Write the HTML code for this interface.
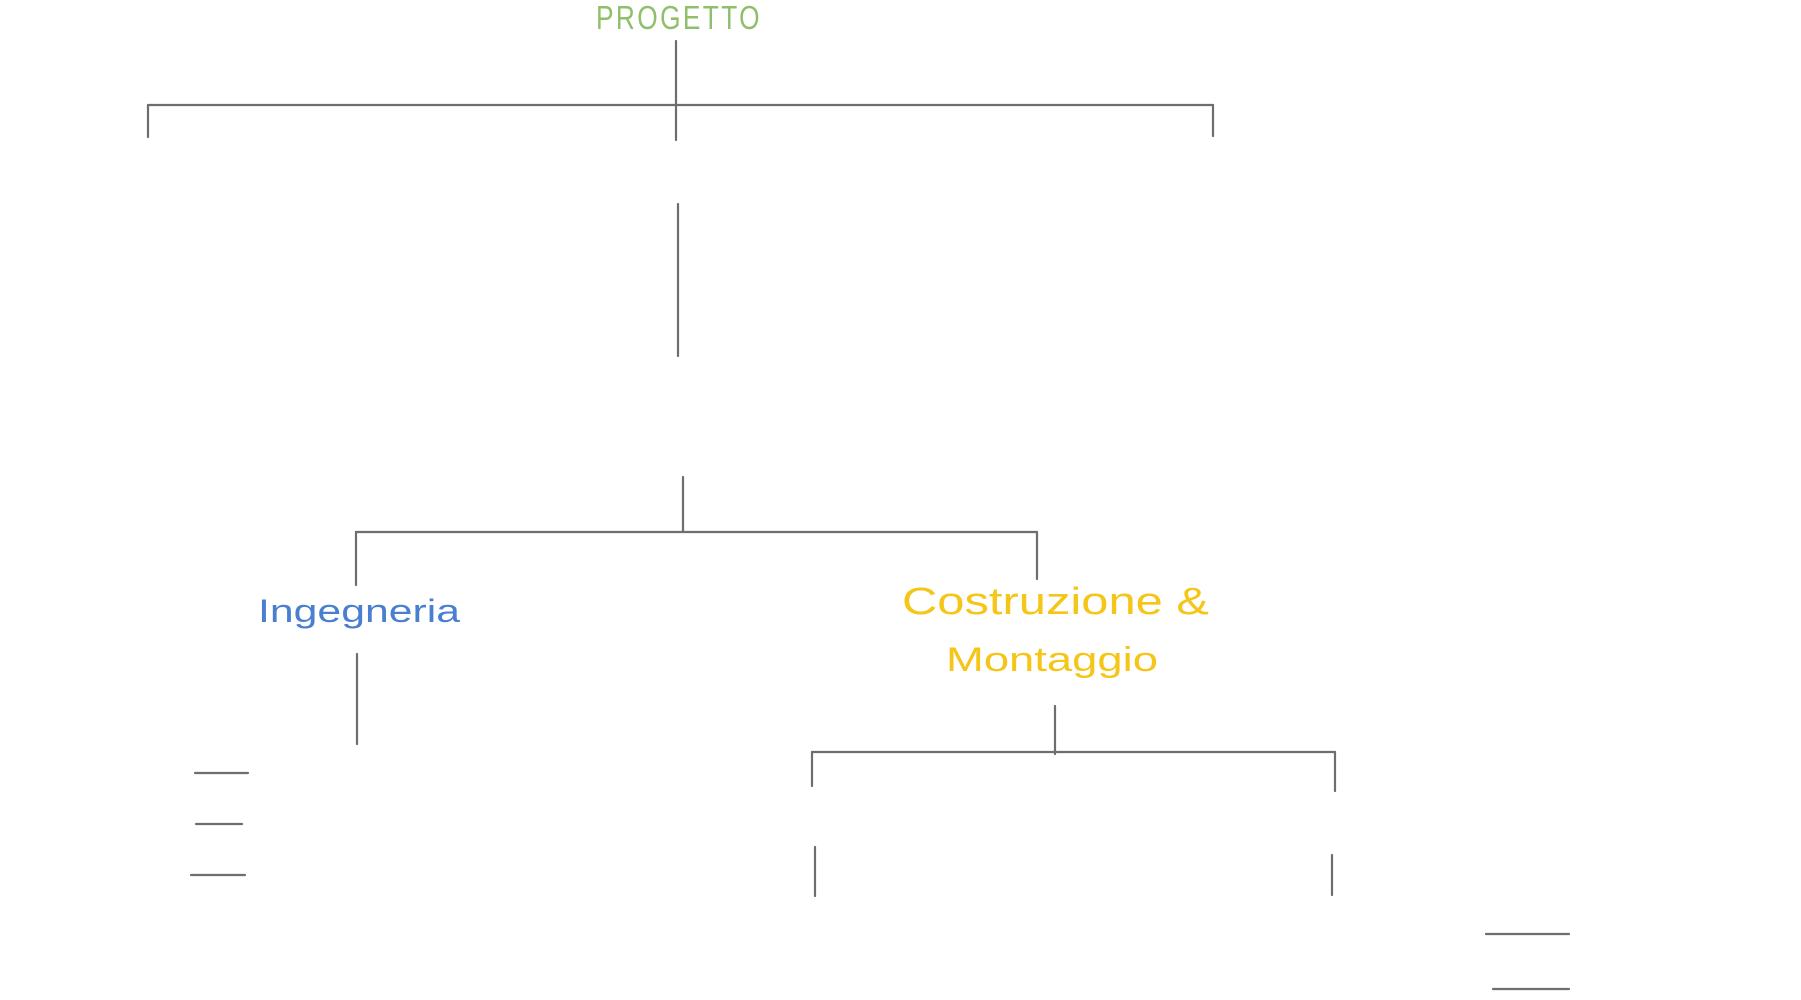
<!DOCTYPE html>
<html><head><meta charset="utf-8"><style>
html,body{margin:0;padding:0;background:#fff;width:1801px;height:1000px;overflow:hidden}
svg{display:block}
text{font-family:"Liberation Sans","DejaVu Sans",sans-serif}
</style></head><body>
<svg width="1801" height="1000" viewBox="0 0 1801 1000">
<g stroke="#6e6e6e" stroke-width="2.2" fill="none" stroke-linecap="round" transform="translate(-2,-2)">
<line x1="678" y1="43" x2="678" y2="142"/>
<line x1="150" y1="107" x2="1215" y2="107"/>
<line x1="150" y1="107" x2="150" y2="139"/>
<line x1="1215" y1="107" x2="1215" y2="138"/>
<line x1="680" y1="206" x2="680" y2="358"/>
<line x1="685" y1="479" x2="685" y2="534"/>
<line x1="358" y1="534" x2="1039" y2="534"/>
<line x1="358" y1="534" x2="358" y2="587"/>
<line x1="1039" y1="534" x2="1039" y2="581"/>
<line x1="359" y1="656" x2="359" y2="746"/>
<line x1="197" y1="775" x2="250" y2="775"/>
<line x1="198" y1="826" x2="244" y2="826"/>
<line x1="193" y1="877" x2="247" y2="877"/>
<line x1="1057" y1="708" x2="1057" y2="756"/>
<line x1="814" y1="754" x2="1337" y2="754"/>
<line x1="814" y1="754" x2="814" y2="788"/>
<line x1="1337" y1="754" x2="1337" y2="793"/>
<line x1="817" y1="849" x2="817" y2="898"/>
<line x1="1334" y1="857" x2="1334" y2="897"/>
<line x1="1488" y1="936" x2="1571" y2="936"/>
<line x1="1495" y1="991" x2="1571" y2="991"/>
</g>
<text x="596" y="29" font-size="33" fill="#8fbf6a" letter-spacing="3" textLength="166" lengthAdjust="spacingAndGlyphs">PROGETTO</text>
<text x="258" y="622" font-size="32" fill="#4a7fd0" textLength="202" lengthAdjust="spacingAndGlyphs">Ingegneria</text>
<text x="902" y="614" font-size="38" fill="#f5c518" textLength="307" lengthAdjust="spacingAndGlyphs">Costruzione &amp;</text>
<text x="946" y="671" font-size="34" fill="#f5c518" textLength="212" lengthAdjust="spacingAndGlyphs">Montaggio</text>
</svg>
</body></html>
